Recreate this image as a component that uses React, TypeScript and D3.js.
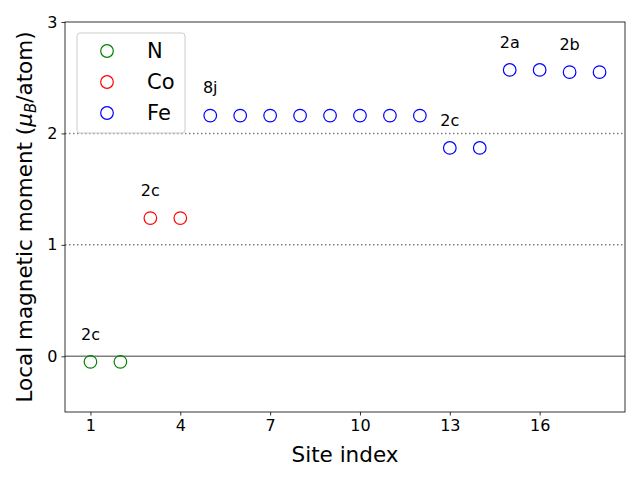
import React from 'react';
import * as d3 from 'd3';

const nSites = [1, 2];
const nMoments = [-0.05, -0.05];
const coSites = [3, 4];
const coMoments = [1.24, 1.24];
const feSites = [5, 6, 7, 8, 9, 10, 11, 12, 13, 14, 15, 16, 17, 18];
const feMoments = [2.16, 2.16, 2.16, 2.16, 2.16, 2.16, 2.16, 2.16, 1.87, 1.87, 2.57, 2.57, 2.55, 2.55];

const labelSites = [1, 3, 5, 13, 15, 17];
const labelMoments = [-0.05, 1.24, 2.16, 1.87, 2.57, 2.55];
const labelTexts = ['2c', '2c', '8j', '2c', '2a', '2b'];

const xTicks = [1, 4, 7, 10, 13, 16];
const yTicks = [0, 1, 2, 3];

const series = [
  { name: 'N', color: 'green', sites: nSites, values: nMoments },
  { name: 'Co', color: 'red', sites: coSites, values: coMoments },
  { name: 'Fe', color: 'blue', sites: feSites, values: feMoments },
];

export default function App() {
  const ref = React.useRef<SVGSVGElement>(null);

  React.useEffect(() => {
    const margin = { top: 22, right: 15, bottom: 68, left: 65 };
    const width = 640 - margin.left - margin.right;
    const height = 480 - margin.top - margin.bottom;
    const font = 'DejaVu Sans';

    const root = d3.select(ref.current);
    root.selectAll('*').remove();

    const svg = root.append('g').attr('transform', `translate(${margin.left},${margin.top})`);

    const x = d3.scaleLinear().domain([0.15, 18.85]).range([0, width]);
    const y = d3.scaleLinear().domain([-0.5, 3]).range([height, 0]);

    // reference lines
    [1, 2].forEach(v => {
      svg.append('line')
        .attr('x1', 0).attr('x2', width)
        .attr('y1', y(v)).attr('y2', y(v))
        .attr('stroke', 'gray').attr('stroke-width', 1.5)
        .attr('stroke-dasharray', '1.5,2.5');
    });
    svg.append('line')
      .attr('x1', 0).attr('x2', width)
      .attr('y1', y(0)).attr('y2', y(0))
      .attr('stroke', 'gray').attr('stroke-width', 1.5);

    // points
    series.forEach(s => {
      svg.append('g').selectAll('circle')
        .data(s.sites.map((site, i) => ({ site, v: s.values[i] })))
        .enter()
        .append('circle')
        .attr('cx', d => x(d.site))
        .attr('cy', d => y(d.v))
        .attr('r', 6.3)
        .attr('fill', 'none')
        .attr('stroke', s.color)
        .attr('stroke-width', 1.2);
    });

    // site labels
    svg.append('g').selectAll('text')
      .data(labelTexts.map((t, i) => ({ t, site: labelSites[i], v: labelMoments[i] })))
      .enter()
      .append('text')
      .attr('x', d => x(d.site))
      .attr('y', d => y(d.v + 0.25))
      .attr('text-anchor', 'middle')
      .attr('dominant-baseline', 'central')
      .attr('font-family', font)
      .attr('font-size', 16)
      .text(d => d.t);

    // axes
    const xAxis = svg.append('g')
      .attr('transform', `translate(0,${height})`)
      .call(d3.axisBottom(x).tickValues(xTicks).tickSize(3.5).tickPadding(4).tickFormat(d3.format('d')));
    const yAxis = svg.append('g')
      .call(d3.axisLeft(y).tickValues(yTicks).tickSize(3.5).tickPadding(4).tickFormat(d3.format('d')));
    [xAxis, yAxis].forEach(a => {
      a.select('.domain').remove();
      a.selectAll('text').attr('font-family', font).attr('font-size', 16).attr('fill', 'black');
      a.selectAll('line').attr('stroke', 'black').attr('stroke-width', 0.8);
    });

    svg.append('rect')
      .attr('width', width).attr('height', height)
      .attr('fill', 'none').attr('stroke', 'black').attr('stroke-width', 0.8);

    // axis labels
    svg.append('text')
      .attr('x', width / 2).attr('y', height + 50)
      .attr('text-anchor', 'middle')
      .attr('font-family', font).attr('font-size', 21.5)
      .text('Site index');

    const yl = svg.append('text')
      .attr('transform', `translate(${-33},${height / 2}) rotate(-90)`)
      .attr('text-anchor', 'middle')
      .attr('font-family', font).attr('font-size', 21.5);
    yl.append('tspan').text('Local magnetic moment (');
    yl.append('tspan').attr('font-style', 'italic').text('μ');
    yl.append('tspan').attr('font-style', 'italic').attr('font-size', 15).attr('dy', 4).text('B');
    yl.append('tspan').attr('dy', -4).text('/atom)');

    // legend
    const lg = svg.append('g').attr('transform', 'translate(12,11)');
    lg.append('rect')
      .attr('width', 108).attr('height', 100)
      .attr('rx', 3)
      .attr('fill', 'white').attr('fill-opacity', 0.8)
      .attr('stroke', '#cccccc').attr('stroke-width', 1);
    series.forEach((s, i) => {
      const row = lg.append('g').attr('transform', `translate(0,${18 + i * 31})`);
      row.append('circle')
        .attr('cx', 30).attr('cy', 0).attr('r', 6.3)
        .attr('fill', 'none').attr('stroke', s.color).attr('stroke-width', 1.2);
      row.append('text')
        .attr('x', 70).attr('y', 0)
        .attr('dominant-baseline', 'central')
        .attr('font-family', font).attr('font-size', 21)
        .text(s.name);
    });
  }, []);

  return <svg ref={ref} width={640} height={480} style={{ position: 'absolute', left: 0, top: 0 }} />;
}
